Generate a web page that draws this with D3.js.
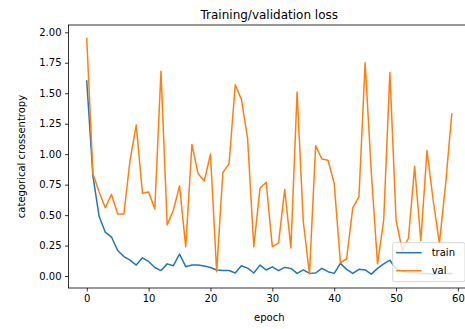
<!DOCTYPE html>
<html>
<head>
<meta charset="utf-8">
<script src="https://cdn.jsdelivr.net/npm/d3@7"></script>
<style>
  html, body { margin: 0; padding: 0; background: #fff; }
  svg { display: block; font-family: "DejaVu Sans", sans-serif; }
</style>
</head>
<body>
<svg id="chart" width="465" height="329"></svg>
<script>
// Loss per epoch
const epochs = d3.range(0, 60);
const trainLoss = [
  1.60, 0.82, 0.49, 0.36, 0.32, 0.21, 0.16, 0.13, 0.09, 0.15,
  0.12, 0.07, 0.045, 0.10, 0.085, 0.18, 0.077, 0.09, 0.09, 0.082,
  0.07, 0.05, 0.045, 0.045, 0.025, 0.085, 0.065, 0.025, 0.09, 0.05,
  0.076, 0.044, 0.071, 0.063, 0.022, 0.05, 0.022, 0.025, 0.063, 0.036,
  0.022, 0.104, 0.055, 0.022, 0.055, 0.05, 0.016, 0.063, 0.10, 0.13,
  0.06, 0.04, 0.03, 0.03, 0.02, 0.02, 0.015, 0.02, 0.02, 0.02
];
const valLoss = [
  1.95, 0.84, 0.69, 0.56, 0.67, 0.51, 0.51, 0.95, 1.24, 0.68,
  0.69, 0.55, 1.68, 0.42, 0.54, 0.74, 0.24, 1.08, 0.84, 0.78,
  1.00, 0.035, 0.85, 0.92, 1.57, 1.45, 1.13, 0.24, 0.72, 0.77,
  0.24, 0.27, 0.71, 0.23, 1.51, 0.45, 0.016, 1.07, 0.96, 0.95,
  0.76, 0.11, 0.14, 0.56, 0.65, 1.75, 0.85, 0.10, 0.46, 1.67,
  0.46, 0.21, 0.31, 0.90, 0.29, 1.03, 0.62, 0.27, 0.75, 1.33
];
const xTicks = [0, 10, 20, 30, 40, 50, 60];
const yTicks = [0, 0.25, 0.5, 0.75, 1.0, 1.25, 1.5, 1.75, 2.0];
const seriesNames = ["train", "val"];
const seriesColors = ["#1f77b4", "#ff7f0e"];

const svg = d3.select("#chart");
const plot = { left: 68.5, right: 470, top: 25, bottom: 288 };

const x = d3.scaleLinear().domain([-2.95, 61.95]).range([plot.left, plot.right]);
const y = d3.scaleLinear().domain([-0.098, 2.06]).range([plot.bottom, plot.top]);

// Axes
const xAxis = svg.append("g")
  .attr("transform", `translate(0,${plot.bottom})`)
  .call(d3.axisBottom(x).tickValues(xTicks).tickFormat(d3.format("d"))
    .tickSize(3.5).tickPadding(3.5).tickSizeOuter(0));
const yAxis = svg.append("g")
  .attr("transform", `translate(${plot.left},0)`)
  .call(d3.axisLeft(y).tickValues(yTicks).tickFormat(d3.format(".2f"))
    .tickSize(3.5).tickPadding(3.5).tickSizeOuter(0));
[xAxis, yAxis].forEach(g => {
  g.select(".domain").remove();
  g.selectAll(".tick line").attr("stroke", "#000").attr("stroke-width", 0.8);
  g.selectAll(".tick text").attr("fill", "#000").attr("font-size", 10)
    .attr("font-family", "DejaVu Sans, sans-serif");
});

// Lines
const clip = svg.append("clipPath").attr("id", "plot-clip")
  .append("rect").attr("x", plot.left).attr("y", plot.top)
  .attr("width", plot.right - plot.left).attr("height", plot.bottom - plot.top);

const line = d3.line().x((d, i) => x(epochs[i])).y(d => y(d));
[trainLoss, valLoss].forEach((series, k) => {
  svg.append("path")
    .datum(series)
    .attr("clip-path", "url(#plot-clip)")
    .attr("fill", "none")
    .attr("stroke", seriesColors[k])
    .attr("stroke-width", 1.5)
    .attr("stroke-linejoin", "round")
    .attr("stroke-linecap", "square")
    .attr("d", line);
});

// Frame
svg.append("rect")
  .attr("x", plot.left).attr("y", plot.top)
  .attr("width", plot.right - plot.left).attr("height", plot.bottom - plot.top)
  .attr("fill", "none").attr("stroke", "#000").attr("stroke-width", 0.8);

// Title and axis labels
svg.append("text")
  .attr("x", (plot.left + plot.right) / 2).attr("y", 18.5)
  .attr("text-anchor", "middle").attr("font-size", 12).attr("fill", "#000")
  .text("Training/validation loss");
svg.append("text")
  .attr("x", (plot.left + plot.right) / 2).attr("y", 321)
  .attr("text-anchor", "middle").attr("font-size", 10).attr("fill", "#000")
  .text("epoch");
svg.append("text")
  .attr("transform", `translate(25,${(plot.top + plot.bottom) / 2}) rotate(-90)`)
  .attr("text-anchor", "middle").attr("font-size", 10).attr("fill", "#000")
  .text("categorical crossentropy");

// Legend (lower right)
const lg = svg.append("g");
const lgBox = { x: 392.7, y: 242.7, w: plot.right - 5 - 392.7, h: 39 };
lg.append("rect")
  .attr("x", lgBox.x).attr("y", lgBox.y).attr("width", lgBox.w).attr("height", lgBox.h)
  .attr("rx", 2).attr("ry", 2)
  .attr("fill", "#fff").attr("fill-opacity", 0.8)
  .attr("stroke", "#cccccc").attr("stroke-width", 0.8);
seriesNames.forEach((name, i) => {
  const cy = lgBox.y + 10 + i * 18;
  lg.append("line")
    .attr("x1", lgBox.x + 3.5).attr("x2", lgBox.x + 29)
    .attr("y1", cy).attr("y2", cy)
    .attr("stroke", seriesColors[i]).attr("stroke-width", 1.5);
  lg.append("text")
    .attr("x", lgBox.x + 39).attr("y", cy + 3.7)
    .attr("font-size", 10).attr("fill", "#000")
    .text(name);
});
</script>
</body>
</html>
